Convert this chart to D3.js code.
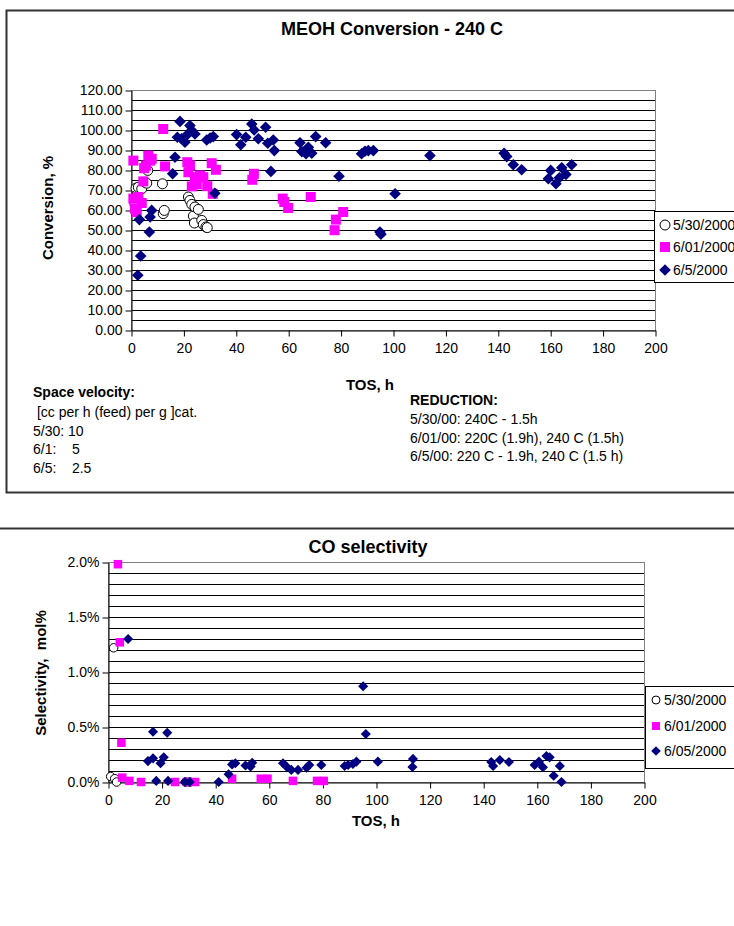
<!DOCTYPE html>
<html>
<head>
<meta charset="utf-8">
<script src="https://cdn.jsdelivr.net/npm/d3@7"></script>
<style>
body { margin: 0; background: #fff; }
svg { display: block; font-family: "Liberation Sans", Arial, sans-serif; }
</style>
</head>
<body>
<svg id="page" width="734" height="926"></svg>
<script>
// MEOH conversion, %, vs time on stream (h)
let tos530 = [1.5, 1.9, 2.4, 2.8, 4.1, 5.3, 6.0, 6.4, 12.0, 12.3, 12.7, 21.9, 22.5, 23.2, 23.8, 24.2, 24.4, 25.7, 27.0, 27.6, 28.6, 29.1];
let conv530 = [63, 70.9, 67.6, 71.4, 70.6, 73.9, 73.4, 79.8, 73.1, 58.2, 59.8, 66.5, 64.8, 62.8, 57.0, 53.5, 61.5, 60.3, 54.8, 52.7, 51.5, 51.2];

let tos601 = [0.9, 0.9, 1.5, 2.2, 2.8, 4.1, 4.7, 5.0, 5.7, 6.6, 7.3, 7.9, 12.3, 13.0, 21.5, 21.9, 22.5, 23.2, 24.4, 25.1,
    26.3, 27.6, 29.1, 30.8, 31.2, 32.4, 46.3, 46.9, 57.9, 58.5, 60.0, 68.6, 77.7, 78.2, 81.0];
let conv601 = [84.7, 65.7, 60.7, 59.0, 66.5, 63.5, 74.3, 80.9, 82.2, 87.2, 84.7, 85.6, 100.5, 81.8, 83.9, 78.9, 82.3, 71.8, 76.4, 72.8,
    77.3, 76.4, 71.9, 83.4, 68.1, 80.1, 75.1, 78.1, 65.7, 64.0, 61.0, 66.5, 49.9, 55.2, 59.0];

let tos605 = [2.6, 3.2, 3.7, 7.0, 7.3, 7.9, 15.9, 16.8, 17.7, 18.7, 19.3, 20.6, 21.5, 22.5, 23.2, 24.4, 28.9, 30.2, 31.4, 32.0,
    40.3, 41.9, 43.8, 46.1, 47.0, 48.6, 51.4, 52.2, 53.4, 54.3, 54.7, 64.5, 65.2, 66.8, 67.7, 69.0, 70.5, 74.3, 79.4,
    88.0, 89.3, 90.6, 92.5, 95.0, 95.4, 100.8, 114.1, 142.4, 143.4, 145.9, 149.1, 159.3, 160.2, 162.2, 163.5, 164.4, 166.0, 168.2];
let conv605 = [27.4, 55.2, 37.0, 49.0, 56.5, 59.8, 78.1, 86.4, 96.4, 104.3, 95.6, 93.9, 97.7, 102.2, 99.7, 98.0, 95.0, 96.0, 96.7, 68.4,
    97.7, 92.6, 96.4, 103.0, 100.0, 95.6, 101.4, 93.4, 79.3, 95.0, 89.7, 93.6, 89.2, 88.1, 91.4, 88.4, 96.7, 93.6, 76.9,
    88.1, 89.4, 89.7, 89.7, 49.0, 47.9, 68.1, 87.2, 88.4, 86.7, 82.6, 80.1, 75.6, 79.8, 73.1, 76.1, 81.1, 77.8, 82.6];

// CO selectivity, mol%
let tosCo530 = [2.1, 1.0, 2.5, 3.2, 29.0, 30.5];
let co530 = [1.22, 0.05, 0.03, 0.0, 0.0, 0.0];

let tosCo601 = [3.7, 4.4, 5.0, 5.3, 8.0, 12.3, 25.0, 29.4, 32.5, 46.3, 57.0, 59.5, 69.0, 78.0, 80.5];
let co601 = [1.98, 1.27, 0.357, 0.04, 0.01, 0.0, 0.0, 0.0, 0.0, 0.03, 0.03, 0.03, 0.01, 0.01, 0.01];

let tosCo605 = [7.5, 14.9, 16.8, 16.8, 19.6, 20.8, 22.1, 18.0, 22.4, 28.7, 30.5, 41.3, 45.0, 46.3, 47.5, 51.3, 53.2, 53.8, 65.3, 66.6,
    68.4, 70.9, 74.1, 75.1, 79.6, 88.3, 89.6, 91.4, 92.7, 95.2, 96.2, 100.7, 113.6, 113.8, 143.0, 143.7, 146.2, 149.6, 159.2, 160.8,
    162.3, 163.6, 164.8, 166.3, 168.6, 169.2];
let co605 = [1.30, 0.19, 0.215, 0.457, 0.17, 0.224, 0.448, 0.01, 0.01, 0.0, 0.0, 0.0, 0.07, 0.16, 0.17, 0.15, 0.14, 0.175, 0.17, 0.14,
    0.11, 0.11, 0.13, 0.155, 0.155, 0.145, 0.155, 0.164, 0.185, 0.87, 0.436, 0.185, 0.136, 0.21, 0.182, 0.145, 0.2, 0.182, 0.155, 0.185,
    0.134, 0.236, 0.224, 0.057, 0.145, 0.0];

let legend1 = ['5/30/2000', '6/01/2000', '6/5/2000'];
let legend2 = ['5/30/2000', '6/01/2000', '6/05/2000'];

let svg = d3.select('#page');

// marker drawing: open circle, magenta square, navy diamond
let drawMarker = (g, kind, s) => {
    if (kind === 'circle') {
        g.append('circle').attr('r', s / 2).attr('fill', '#fff').attr('stroke', '#000').attr('stroke-width', 1);
    } else if (kind === 'square') {
        g.append('rect').attr('x', -s / 2).attr('y', -s / 2).attr('width', s).attr('height', s).attr('fill', '#ff00ff');
    } else {
        let h = s / 2 + 0.8;
        g.append('path').attr('d', `M0,${-h}L${h},0L0,${h}L${-h},0Z`).attr('fill', '#000080');
    }
};

let drawScatter = (opt) => {
    let g = svg.append('g');
    let x = d3.scaleLinear().domain([0, 200]).range([opt.left, opt.right]);
    let y = d3.scaleLinear().domain(opt.yDomain).range([opt.bottom, opt.top]);

    // grid lines (major + minor)
    g.append('g').selectAll('line')
        .data(d3.range(opt.yDomain[0], opt.yDomain[1] + 1e-9, opt.gridStep))
        .enter().append('line')
        .attr('x1', opt.left).attr('x2', opt.right)
        .attr('y1', (d) => Math.round(y(d)) + 0.5).attr('y2', (d) => Math.round(y(d)) + 0.5)
        .attr('stroke', '#000').attr('stroke-width', 1);

    // plot area frame
    g.append('rect')
        .attr('x', opt.left + 0.5).attr('y', Math.round(opt.top) + 0.5)
        .attr('width', opt.right - opt.left).attr('height', Math.round(opt.bottom) - Math.round(opt.top))
        .attr('fill', 'none').attr('stroke', '#808080');

    // axes
    let yAxis = g.append('g')
        .attr('transform', `translate(${opt.left + 0.5},0.5)`)
        .call(d3.axisLeft(y).tickValues(opt.yTicks).tickFormat(opt.yFormat).tickSize(6).tickSizeOuter(0).tickPadding(3));
    let xAxis = g.append('g')
        .attr('transform', `translate(0.5,${Math.round(opt.bottom) + 0.5})`)
        .call(d3.axisBottom(x).tickValues(d3.range(0, 201, 20)).tickSize(6).tickSizeOuter(0).tickPadding(7));
    [yAxis, xAxis].forEach((a) => {
        a.selectAll('text').attr('font-size', opt.tickFont).attr('fill', '#000').attr('font-family', null);
        a.selectAll('line, path').attr('stroke', '#000');
    });

    // series
    opt.series.forEach((s) => {
        s.xs.forEach((xv, i) => {
            let m = g.append('g').attr('transform', `translate(${x(xv)},${y(s.ys[i])})`);
            drawMarker(m, s.kind, opt.markSize);
        });
    });

    // axis titles
    g.append('text')
        .attr('x', opt.xTitle.x).attr('y', opt.xTitle.y)
        .attr('text-anchor', 'middle').attr('font-weight', 'bold').attr('font-size', opt.labelFont)
        .text('TOS, h');
    g.append('text')
        .attr('transform', `translate(${opt.yTitle.x},${opt.yTitle.y}) rotate(-90)`)
        .attr('text-anchor', 'middle').attr('font-weight', 'bold').attr('font-size', opt.labelFont)
        .style('white-space', 'pre')
        .text(opt.yTitle.text);

    // chart title
    g.append('text')
        .attr('x', opt.title.x).attr('y', opt.title.y)
        .attr('text-anchor', 'middle').attr('font-weight', 'bold').attr('font-size', opt.titleFont)
        .text(opt.title.text);

    // legend
    let lg = g.append('g');
    lg.append('rect')
        .attr('x', opt.legend.x + 0.5).attr('y', opt.legend.y + 0.5)
        .attr('width', 120).attr('height', opt.legend.h)
        .attr('fill', '#fff').attr('stroke', '#000');
    opt.series.forEach((s, i) => {
        let cy = opt.legend.rows[i];
        let m = lg.append('g').attr('transform', `translate(${opt.legend.x + 11},${cy})`);
        drawMarker(m, s.kind, opt.legendMark);
        lg.append('text')
            .attr('x', opt.legend.x + 19).attr('y', cy).attr('dy', '0.35em')
            .attr('font-size', opt.tickFont)
            .text(opt.legend.labels[i]);
    });
};

// ---------- chart 1 ----------
svg.append('rect').attr('x', 6.5).attr('y', 10.5).attr('width', 740).attr('height', 482)
    .attr('fill', '#fff').attr('stroke', '#333').attr('stroke-width', 2);

drawScatter({
    left: 131, right: 655, top: 90, bottom: 330,
    yDomain: [0, 120], gridStep: 5, yTicks: d3.range(0, 121, 10), yFormat: d3.format('.2f'),
    tickFont: 14, labelFont: 15, titleFont: 18, markSize: 10, legendMark: 10,
    title: { text: 'MEOH Conversion - 240 C', x: 392, y: 35 },
    xTitle: { x: 370, y: 390 },
    yTitle: { text: 'Conversion, %', x: 53, y: 208 },
    legend: { x: 654, y: 211, h: 71, rows: [225, 247, 270], labels: legend1 },
    series: [
        { kind: 'circle', xs: tos530, ys: conv530 },
        { kind: 'square', xs: tos601, ys: conv601 },
        { kind: 'diamond', xs: tos605, ys: conv605 }
    ]
});

// notes under chart 1
let notesLeft = svg.append('g').attr('font-size', 14);
notesLeft.append('text').attr('x', 33).attr('y', 397).attr('font-weight', 'bold').text('Space velocity:');
[' [cc per h (feed) per g ]cat.', '5/30: 10', '6/1:    5', '6/5:    2.5'].forEach((t, i) => {
    notesLeft.append('text').attr('x', 33).attr('y', 417 + i * 18.7).style('white-space', 'pre').text(t);
});
let notesRight = svg.append('g').attr('font-size', 14);
notesRight.append('text').attr('x', 410).attr('y', 405).attr('font-weight', 'bold').text('REDUCTION:');
['5/30/00: 240C - 1.5h', '6/01/00: 220C (1.9h), 240 C (1.5h)', '6/5/00: 220 C - 1.9h, 240 C (1.5 h)'].forEach((t, i) => {
    notesRight.append('text').attr('x', 410).attr('y', 424 + i * 18.7).text(t);
});

// ---------- chart 2 ----------
svg.append('rect').attr('x', -10).attr('y', 528.5).attr('width', 760).attr('height', 420)
    .attr('fill', '#fff').attr('stroke', '#333').attr('stroke-width', 2);

drawScatter({
    left: 108, right: 644, top: 562, bottom: 782,
    yDomain: [0, 2], gridStep: 0.1, yTicks: d3.range(0, 2.01, 0.5), yFormat: (d) => d.toFixed(1) + '%',
    tickFont: 14, labelFont: 15, titleFont: 18, markSize: 8.5, legendMark: 8,
    title: { text: 'CO selectivity', x: 368, y: 553 },
    xTitle: { x: 376, y: 826 },
    yTitle: { text: 'Selectivity,  mol%', x: 46, y: 673 },
    legend: { x: 645, y: 686, h: 82, rows: [700, 726, 751], labels: legend2 },
    series: [
        { kind: 'circle', xs: tosCo530, ys: co530 },
        { kind: 'square', xs: tosCo601, ys: co601 },
        { kind: 'diamond', xs: tosCo605, ys: co605 }
    ]
});
</script>
</body>
</html>
